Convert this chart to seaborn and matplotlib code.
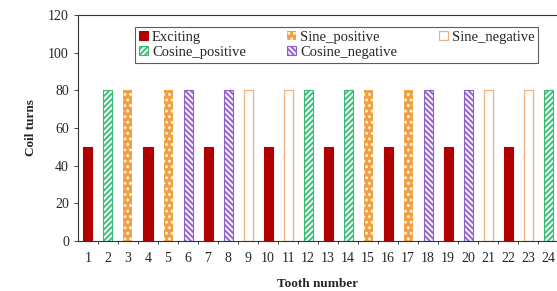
import pandas as pd
import numpy as np
import seaborn as sns
import matplotlib.pyplot as plt
from matplotlib.ticker import FixedLocator

# winding assigned to each tooth and its number of turns
teeth = list(range(1, 25))
windings = ['Exciting', 'Cosine_positive', 'Sine_positive',
            'Exciting', 'Sine_positive', 'Cosine_negative',
            'Exciting', 'Cosine_negative', 'Sine_negative',
            'Exciting', 'Sine_negative', 'Cosine_positive',
            'Exciting', 'Cosine_positive', 'Sine_positive',
            'Exciting', 'Sine_positive', 'Cosine_negative',
            'Exciting', 'Cosine_negative', 'Sine_negative',
            'Exciting', 'Sine_negative', 'Cosine_positive']
turns = [50, 80, 80, 50, 80, 80, 50, 80, 80, 50, 80, 80,
         50, 80, 80, 50, 80, 80, 50, 80, 80, 50, 80, 80]
hue_order = ['Exciting', 'Sine_positive', 'Sine_negative',
             'Cosine_positive', 'Cosine_negative']

df = pd.DataFrame({'tooth': teeth, 'winding': windings, 'turns': turns})

sns.set_style('ticks')
plt.rcParams['font.family'] = ['Liberation Serif', 'DejaVu Serif']
plt.rcParams['hatch.linewidth'] = 1.3

fig = plt.figure(figsize=(5.57, 2.91), dpi=100)
ax = fig.add_axes([0.140, 0.172, 0.862, 0.776])

sns.barplot(data=df, x='tooth', y='turns', hue='winding', hue_order=hue_order,
            dodge=False, width=0.45, legend=False, ax=ax,
            palette=['#b00000'] * 5)

# style of each winding: face, edge (hatch colour), hatch, edge width
styles = {
    'Exciting': ('#b00000', '#b00000', None, 0.8),
    'Sine_positive': ('#f0a040', '#fff4e0', '...', 0.0),
    'Sine_negative': ('#ffffff', '#eeb080', None, 0.9),
    'Cosine_positive': ('#e8fff0', '#3cb878', '//////', 0.8),
    'Cosine_negative': ('#f4eeff', '#9060c8', '\\\\\\\\\\\\', 0.8),
}
for name, cont in zip(hue_order, ax.containers):
    fc, ec, h, lw = styles[name]
    for p in cont:
        p.set_facecolor(fc)
        p.set_edgecolor(ec)
        p.set_linewidth(lw)
        if h:
            p.set_hatch(h)
    cont.set_label(name)

ax.set_xlim(-0.5, 23.5)
ax.set_ylim(0, 120)
ax.set_yticks([0, 20, 40, 60, 80, 100, 120])
ax.tick_params(axis='x', which='major', length=0, labelsize=10, pad=8)
ax.xaxis.set_minor_locator(FixedLocator(np.arange(0.5, 23, 1)))
ax.tick_params(axis='x', which='minor', length=2.5, width=0.6, direction='out')
ax.tick_params(axis='y', length=3, width=0.6, labelsize=10)
for s in ax.spines.values():
    s.set_visible(True)
    s.set_linewidth(0.8)
    s.set_color('#333333')
ax.spines['right'].set_visible(False)

ax.set_xlabel('Tooth number', fontsize=9.5, fontweight='bold', labelpad=9)
ax.set_ylabel('Coil turns', fontsize=9.5, fontweight='bold', labelpad=8)

# row-wise legend order: matplotlib fills columns first
conts = dict(zip(hue_order, ax.containers))
leg_order = ['Exciting', 'Cosine_positive', 'Sine_positive',
             'Cosine_negative', 'Sine_negative']
leg = ax.legend(handles=[conts[n] for n in leg_order], labels=leg_order,
                ncol=3, loc='upper left', mode='expand',
                bbox_to_anchor=(0.119, 0.80, 0.84, 0.147),
                fontsize=10.5, frameon=True, fancybox=False, edgecolor='#333333',
                handlelength=0.6, handleheight=0.6, handletextpad=0.3,
                labelspacing=0.15, borderpad=0.25, borderaxespad=0)
leg.get_frame().set_linewidth(0.8)

fig.savefig('out.png', dpi=100)
